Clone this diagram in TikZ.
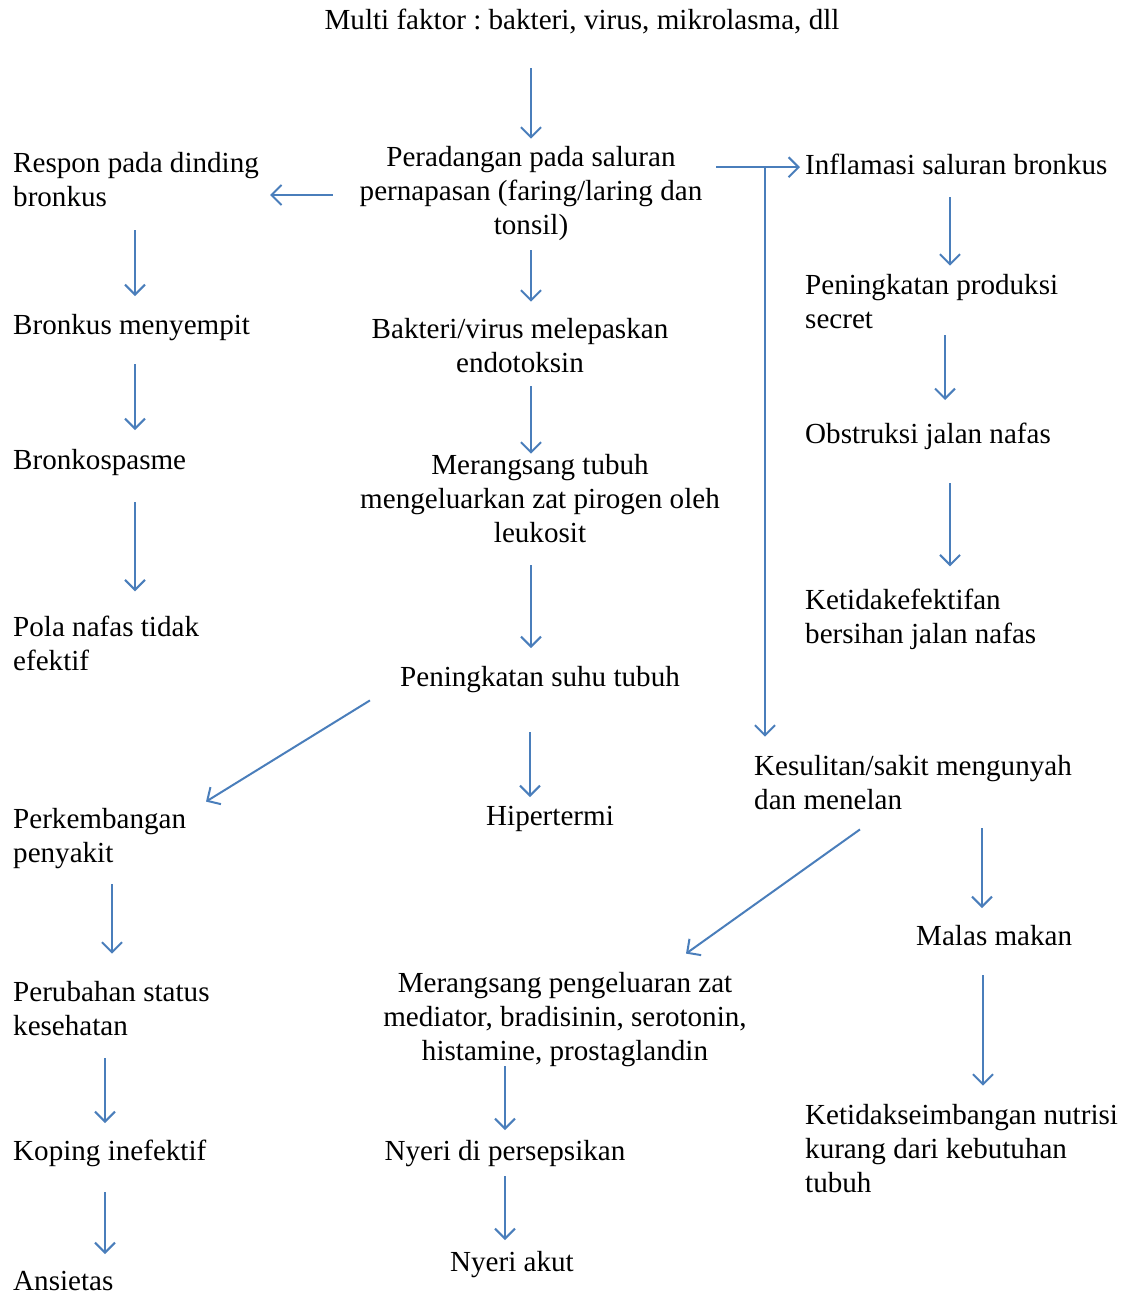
\documentclass[tikz,border=0pt]{standalone}
\usepackage{fontspec}
\setmainfont{Liberation Serif}
\usetikzlibrary{arrows.meta, positioning}
\definecolor{arrowBlue}{HTML}{4A7EBB}
\tikzset{
  txt/.style={inner sep=0pt, font=\fontsize{29.1}{34}\selectfont\frenchspacing,
              execute at begin node=\strut, execute at end node=\strut},
  ctr/.style={txt, align=center, anchor=base},
  lft/.style={txt, align=left, anchor=base west},
  arr/.style={draw=arrowBlue, line width=2pt, -{Straight Barb[length=10pt,width=20pt]}},
}
\begin{document}
\begin{tikzpicture}[x=1pt, y=-1pt]
\useasboundingbox (0,0) rectangle (1132,1294);
% centre column (nodes sit on the baseline of their last line)
\node[ctr] (multi) at (582,29) {Multi faktor : bakteri, virus, mikrolasma, dll};
\node[ctr] (radang) at (531,234) {Peradangan pada saluran\\ pernapasan (faring/laring dan\\ tonsil)};
\node[ctr] (endo) at (520,372) {Bakteri/virus melepaskan\\ endotoksin};
\node[ctr] (pirogen) at (540,542) {Merangsang tubuh\\ mengeluarkan zat pirogen oleh\\ leukosit};
\node[ctr] (suhu) at (540,686) {Peningkatan suhu tubuh};
\node[ctr] (hiper) at (550,825) {Hipertermi};
\node[ctr] (mediator) at (565,1060) {Merangsang pengeluaran zat\\ mediator, bradisinin, serotonin,\\ histamine, prostaglandin};
\node[ctr] (persepsi) at (505,1160) {Nyeri di persepsikan};
\node[ctr] (akut) at (512,1271) {Nyeri akut};
% left column
\node[lft] (respon) at (13,206) {Respon pada dinding\\ bronkus};
\node[lft] (sempit) at (13,334) {Bronkus menyempit};
\node[lft] (spasme) at (13,469) {Bronkospasme};
\node[lft] (pola) at (13,670) {Pola nafas tidak\\ efektif};
\node[lft] (kembang) at (13,862) {Perkembangan\\ penyakit};
\node[lft] (ubah) at (13,1035) {Perubahan status\\ kesehatan};
\node[lft] (koping) at (13,1160) {Koping inefektif};
\node[lft] (cemas) at (13,1290) {Ansietas};
% right column
\node[lft] (inflam) at (805,174) {Inflamasi saluran bronkus};
\node[lft] (sekret) at (805,328) {Peningkatan produksi\\ secret};
\node[lft] (obstruksi) at (805,443) {Obstruksi jalan nafas};
\node[lft] (bersih) at (805,643) {Ketidakefektifan\\ bersihan jalan nafas};
\node[lft] (telan) at (754,809) {Kesulitan/sakit mengunyah\\ dan menelan};
\node[lft] (malas) at (916,945) {Malas makan};
\node[lft] (nutrisi) at (805,1192) {Ketidakseimbangan nutrisi\\ kurang dari kebutuhan\\ tubuh};

% arrows, centre
\draw[arr, shorten <=29pt, shorten >=7pt] (radang.north |- multi.south) -- (radang.north);
\draw[arr, shorten <=27pt] (radang.west) -- ([xshift=11pt]respon.east |- radang.west);
\draw[arr, shorten <=6pt, shorten >=16pt] (radang.south) -- (radang.south |- endo.north);
\draw[arr, shorten <=14pt, shorten >=5pt] (radang.east |- inflam.west) -- (inflam.west);
\coordinate (split) at ([xshift=11pt]telan.north west |- inflam.west);
\draw[arr, shorten >=18pt] (split) -- (split |- telan.north);
\draw[arr, shorten <=4pt, shorten >=0pt] (endo.south -| radang.south) -- (pirogen.north -| radang.south);
\draw[arr, shorten <=13pt, shorten >=14pt] (pirogen.south -| radang.south) -- (suhu.north -| radang.south);
\draw[arr] ([shift={(-30pt,-4pt)}]suhu.south west) -- ([shift={(193pt,6pt)}]kembang.north west);
\draw[arr, shorten <=36pt, shorten >=4pt] ([xshift=-10pt]suhu.south) -- ([xshift=-10pt]suhu.south |- hiper.north);
\draw[arr, shorten <=-4pt, shorten >=6pt] (persepsi.north |- mediator.south) -- (persepsi.north);
\draw[arr, shorten <=6pt, shorten >=7pt] (persepsi.south) -- (persepsi.south |- akut.north);
% arrows, left
\draw[arr, shorten <=14pt, shorten >=14pt] ([xshift=122pt]respon.south west) -- ([xshift=122pt]sempit.north west);
\draw[arr, shorten <=20pt, shorten >=15pt] ([xshift=122pt]sempit.south west) -- ([xshift=122pt]spasme.north west);
\draw[arr, shorten <=23pt, shorten >=24pt] ([xshift=122pt]spasme.south west) -- ([xshift=122pt]pola.north west);
\draw[arr, shorten <=12pt, shorten >=27pt] ([xshift=99pt]kembang.south west) -- ([xshift=99pt]ubah.north west);
\draw[arr, shorten <=13pt, shorten >=13pt] ([xshift=92pt]ubah.south west) -- ([xshift=92pt]koping.north west);
\draw[arr, shorten <=22pt, shorten >=12pt] ([xshift=92pt]koping.south west) -- ([xshift=92pt]cemas.north west);
% arrows, right
\draw[arr, shorten <=13pt, shorten >=8pt] ([xshift=145pt]inflam.south west) -- ([xshift=145pt]sekret.north west);
\draw[arr, shorten <=-3pt, shorten >=19pt] ([xshift=140pt]sekret.south west) -- ([xshift=140pt]obstruksi.north west);
\draw[arr, shorten <=30pt, shorten >=22pt] ([xshift=145pt]obstruksi.south west) -- ([xshift=145pt]bersih.north west);
\draw[arr] ([shift={(106pt,-10pt)}]telan.south west) -- ([shift={(121pt,18pt)}]mediator.north);
\draw[arr, shorten <=9pt, shorten >=13pt] ([xshift=66pt]malas.north west |- telan.south) -- ([xshift=66pt]malas.north west);
\draw[arr, shorten <=20pt, shorten >=18pt] ([xshift=67pt]malas.south west) -- ([xshift=67pt]malas.south west |- nutrisi.north);
\end{tikzpicture}
\end{document}
